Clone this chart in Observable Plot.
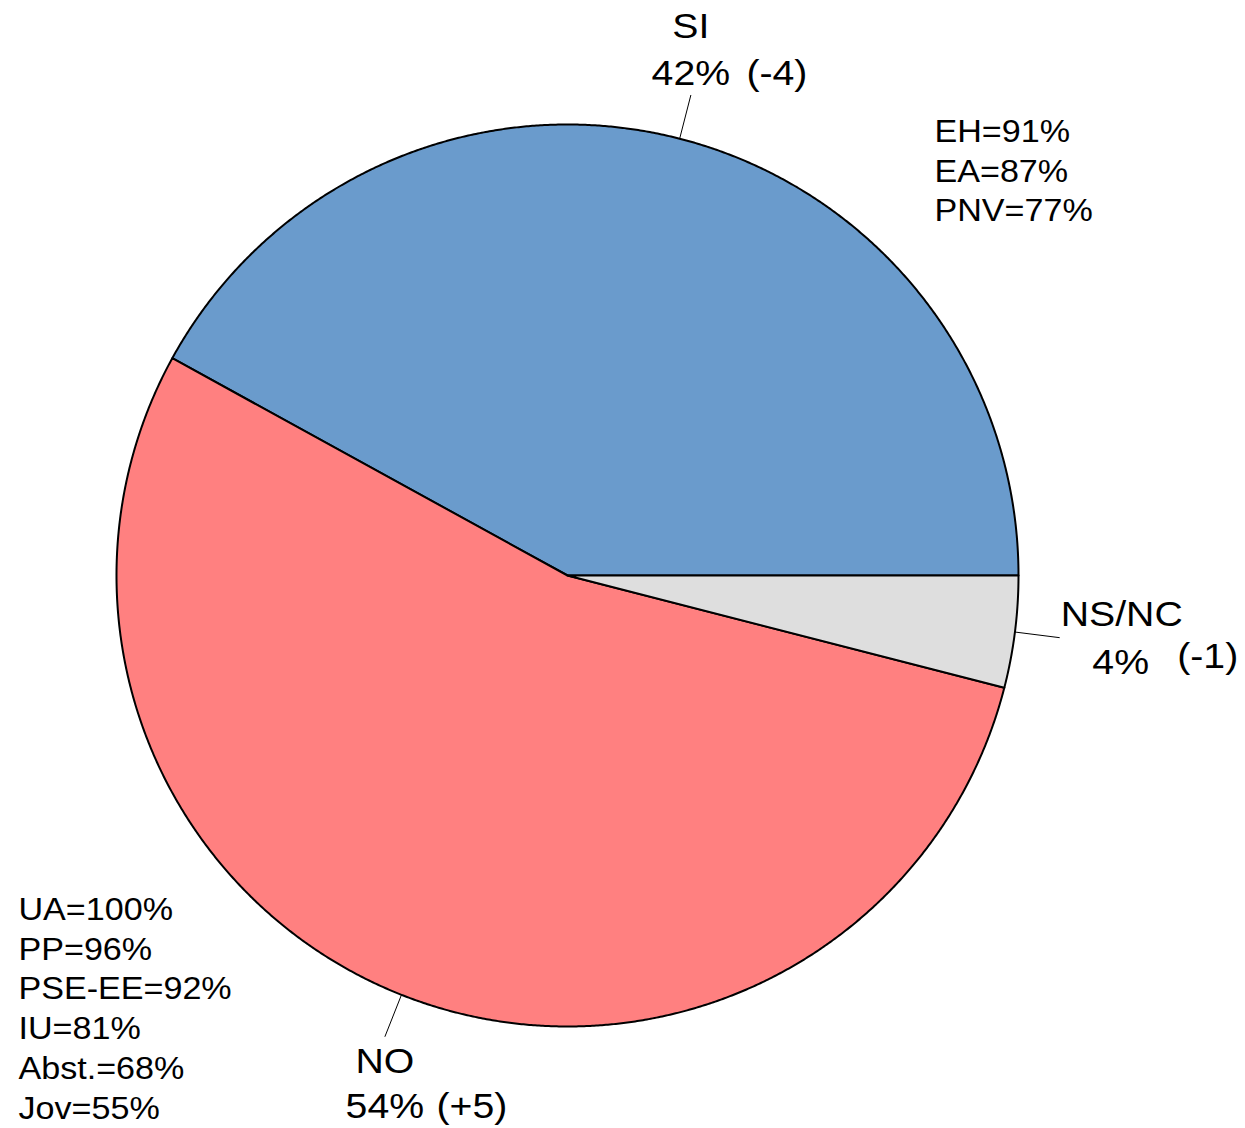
<!DOCTYPE html>
<html>
<head>
<meta charset="utf-8">
<script src="https://cdn.jsdelivr.net/npm/d3@7"></script>
<script src="https://cdn.jsdelivr.net/npm/@observablehq/plot@0.6"></script>
<style>
  html, body { margin: 0; padding: 0; background: #fff; }
  #chart svg { display: block; }
</style>
</head>
<body>
<div id="chart"></div>
<script>
// ---- data ----
const categories = ["SI", "NO", "NS/NC"];
const shares = [42, 54, 4];
const changes = ["(-4)", "(+5)", "(-1)"];
const colors = ["#6a9bcc", "#ff8080", "#dedede"];
const siNotes = ["EH=91%", "EA=87%", "PNV=77%"];
const noNotes = ["UA=100%", "PP=96%", "PSE-EE=92%", "IU=81%", "Abst.=68%", "Jov=55%"];

// ---- layout (label offsets in px, relative to the outer end of each leader line) ----
const labelLayout = {
  "SI":    {name: [0, -57], pct: [0, -10], chg: [86, -10]},
  "NO":    {name: [0, 36],  pct: [0, 81],  chg: [87, 81]},
  "NS/NC": {name: [62, -12], pct: [61, 36], chg: [148, 30]}
};

// ---- geometry from shares (counter-clockwise from 3 o'clock) ----
const total = d3.sum(shares);
const slices = [];
let acc = 0;
categories.forEach((c, i) => {
  const a0 = acc / total * 2 * Math.PI;
  acc += shares[i];
  const a1 = acc / total * 2 * Math.PI;
  slices.push({category: c, share: shares[i], change: changes[i], a0, a1, mid: (a0 + a1) / 2});
});

const wedgePts = [];
for (const s of slices) {
  wedgePts.push({category: s.category, x: 0, y: 0});
  const n = Math.max(8, Math.ceil((s.a1 - s.a0) / (Math.PI / 720)));
  for (let k = 0; k <= n; k++) {
    const a = s.a0 + (s.a1 - s.a0) * k / n;
    wedgePts.push({category: s.category, x: Math.cos(a), y: Math.sin(a)});
  }
  wedgePts.push({category: s.category, x: 0, y: 0});
}

const leaders = slices.map(s => ({
  category: s.category,
  x1: Math.cos(s.mid), y1: Math.sin(s.mid),
  x2: 1.1 * Math.cos(s.mid), y2: 1.1 * Math.sin(s.mid),
  name: s.category, pct: `${s.share}%`, chg: s.change
}));

const font = "'Liberation Sans', Arial, Helvetica, sans-serif";
const bigSize = 36;
const smallSize = 31;

const marks = [
  Plot.line(wedgePts, {x: "x", y: "y", z: "category", fill: "category",
    stroke: "black", strokeWidth: 2, strokeLinejoin: "round", curve: "linear"}),
  Plot.link(leaders, {x1: "x1", y1: "y1", x2: "x2", y2: "y2", stroke: "black", strokeWidth: 1})
];

for (const L of leaders) {
  const lay = labelLayout[L.category];
  const d = [L];
  for (const key of ["name", "pct", "chg"]) {
    marks.push(Plot.text(d, {x: "x2", y: "y2", text: key, dx: lay[key][0], dy: lay[key][1],
      fontSize: bigSize, lineAnchor: "bottom", textAnchor: "middle", fill: "black",
      className: "stretch-big"}));
  }
}

// notes blocks
marks.push(Plot.text([siNotes.join("\n")], {frameAnchor: "top-left", dx: 818, dy: -10,
  text: d => d, fontSize: smallSize, lineAnchor: "top", textAnchor: "start", lineHeight: 1.27,
  fill: "black", className: "stretch-small"}));
marks.push(Plot.text([noNotes.join("\n")], {frameAnchor: "bottom-left", dx: -98, dy: 92,
  text: d => d, fontSize: smallSize, lineAnchor: "bottom", textAnchor: "start", lineHeight: 1.28,
  fill: "black", className: "stretch-small"}));

const chart = Plot.plot({
  width: 1245,
  height: 1128,
  marginLeft: 116,
  marginRight: 227,
  marginTop: 124,
  marginBottom: 102,
  style: {fontFamily: font, background: "white", overflow: "visible"},
  x: {domain: [-1, 1], axis: null},
  y: {domain: [-1, 1], axis: null},
  color: {domain: categories, range: colors},
  marks
});

// slightly wider glyphs, as in the reference rendering
function stretch(sel, k) {
  chart.querySelectorAll(sel + " text").forEach(t => {
    const tr = t.getAttribute("transform") || "";
    t.setAttribute("transform", `${tr} scale(${k},1)`.trim());
  });
}
stretch(".stretch-big", 1.09);
stretch(".stretch-small", 1.1);

document.getElementById("chart").appendChild(chart);
</script>
</body>
</html>
